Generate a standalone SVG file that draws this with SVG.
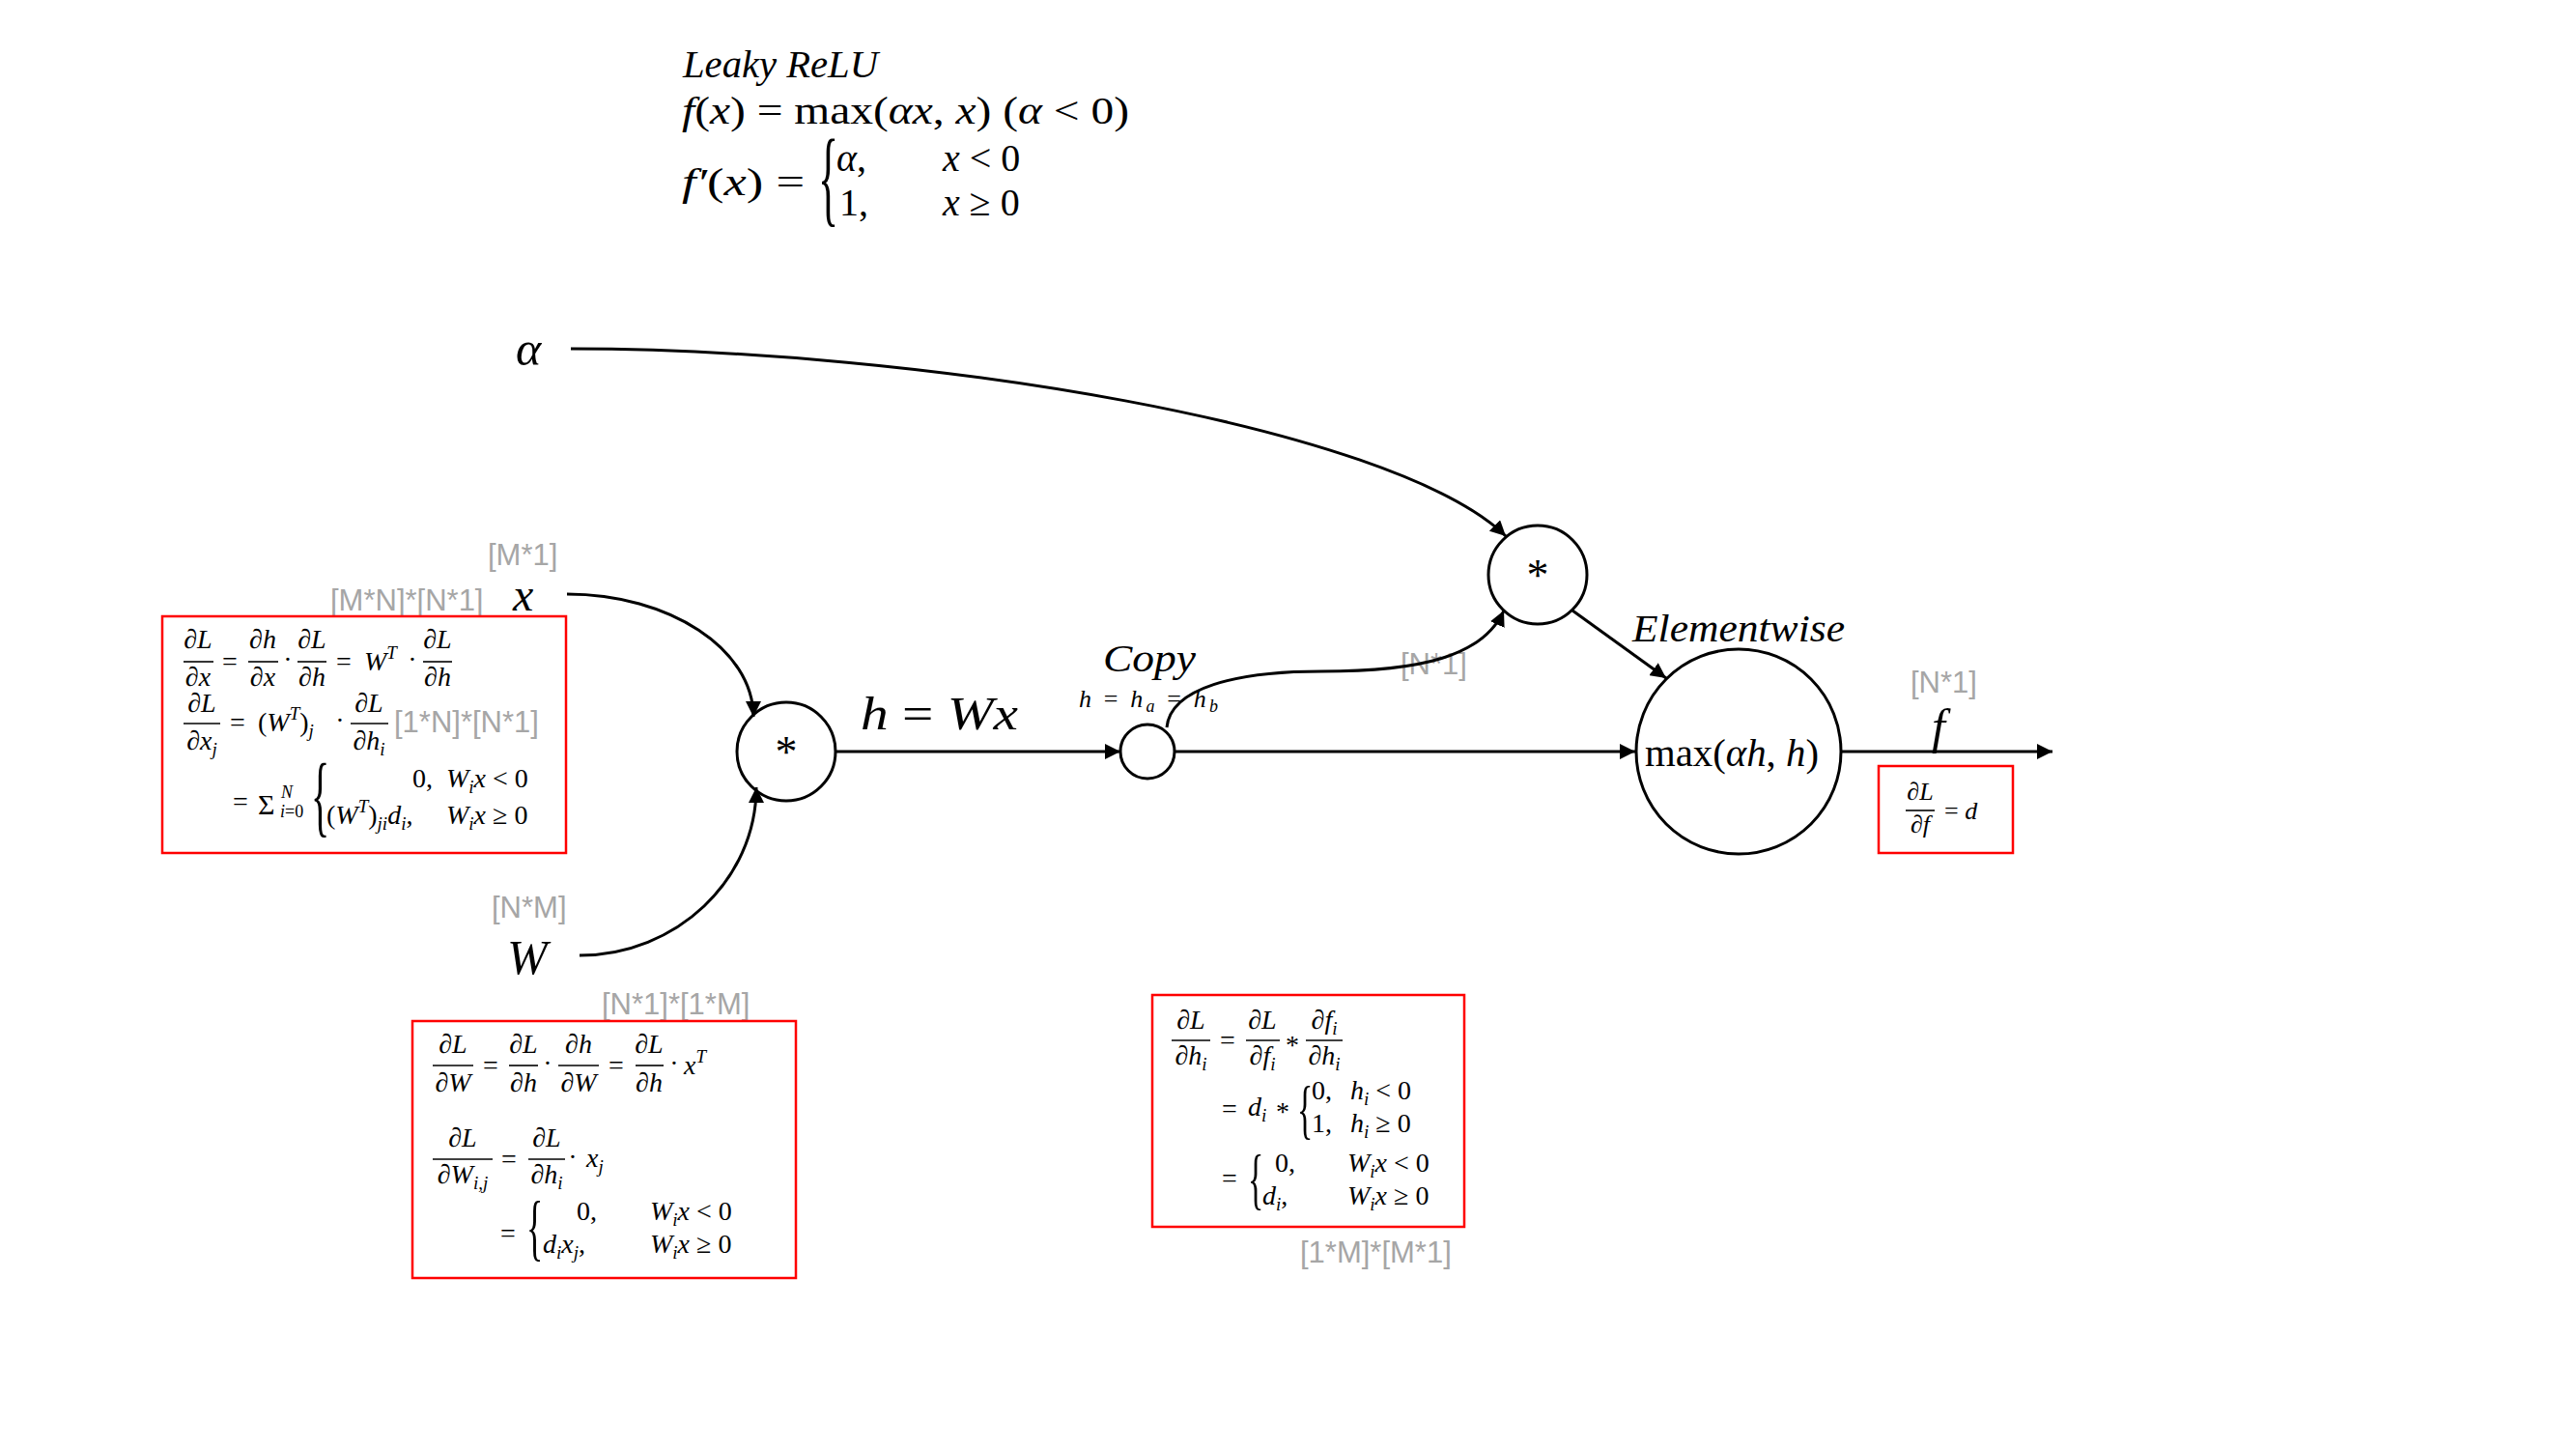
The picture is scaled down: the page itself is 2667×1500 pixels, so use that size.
<svg xmlns="http://www.w3.org/2000/svg" width="2667" height="1500" viewBox="0 0 2667 1500">
<style>
.t{font-family:"Liberation Serif","DejaVu Serif",serif;font-style:italic;fill:#000}
.u{font-style:normal}
.c{text-anchor:middle}
.f28{font-size:28px}
.g{font-family:"Liberation Sans","DejaVu Sans",sans-serif;fill:#a6a6a6;font-size:31px}
.box{fill:none;stroke:#ff0000;stroke-width:2.5}
.fb{stroke:#000;stroke-width:1.6}
.node{fill:#fff;stroke:#000;stroke-width:3}
.edge{fill:none;stroke:#000;stroke-width:3}
</style>
<defs>
<marker id="arr" markerUnits="userSpaceOnUse" markerWidth="18" markerHeight="16" refX="16" refY="8" orient="auto">
<path d="M0,0 L16,8 L0,16 z" fill="#000"/>
</marker>
</defs>
<rect width="2667" height="1500" fill="#fff"/>

<g id="title">
<text class="t" x="707" y="80" font-size="40" textLength="202" lengthAdjust="spacingAndGlyphs">Leaky ReLU</text>
<text class="t" x="706" y="128" font-size="40" textLength="463" lengthAdjust="spacingAndGlyphs">f<tspan class="u">(</tspan>x<tspan class="u">) = max(</tspan>αx<tspan class="u">, </tspan>x<tspan class="u">)  (</tspan>α<tspan class="u"> &lt; 0)</tspan></text>
<text class="t" x="706" y="202" font-size="40" textLength="127" lengthAdjust="spacingAndGlyphs">f′<tspan class="u">(</tspan>x<tspan class="u">) =</tspan></text>
<text class="t u" font-size="44" transform="translate(847,220) scale(1,2.52)">{</text>
<text class="t" x="866" y="177" font-size="40">α<tspan class="u">,</tspan></text>
<text class="t" x="976" y="177" font-size="40">x<tspan class="u"> &lt; 0</tspan></text>
<text class="t u" x="869" y="223" font-size="40">1,</text>
<text class="t" x="976" y="223" font-size="40">x<tspan class="u"> ≥ 0</tspan></text>
</g>

<g id="alpha">
<text class="t" x="534" y="378" font-size="50">α</text>
</g>

<g id="x">
<text class="g" x="505" y="585">[M*1]</text>
<text class="g" x="342" y="632">[M*N]*[N*1]</text>
<text class="t" x="531" y="632" font-size="48">x</text>
</g>

<g id="W">
<text class="g" x="509" y="950">[N*M]</text>
<text class="t" x="525" y="1008" font-size="50">W</text>
</g>

<g id="grad-x">
<rect class="box" x="168" y="638" width="418" height="245"/>
<g class="t f28">
<text class="c" x="205" y="671">∂L</text><line class="fb" x1="190" y1="685" x2="221" y2="685"/><text class="c" x="205" y="710">∂x</text>
<text class="c u" x="238" y="694">=</text>
<text class="c" x="272" y="671">∂h</text><line class="fb" x1="257" y1="685" x2="288" y2="685"/><text class="c" x="272" y="710">∂x</text>
<text class="c u" x="298" y="692">·</text>
<text class="c" x="323" y="671">∂L</text><line class="fb" x1="308" y1="685" x2="338" y2="685"/><text class="c" x="323" y="710">∂h</text>
<text class="c u" x="356" y="694">=</text>
<text x="377" y="694">W<tspan font-size="19" dy="-12">T</tspan></text>
<text class="c u" x="427" y="692">·</text>
<text class="c" x="453" y="671">∂L</text><line class="fb" x1="438" y1="685" x2="468" y2="685"/><text class="c" x="453" y="710">∂h</text>

<text class="c" x="209" y="737">∂L</text><line class="fb" x1="190" y1="749" x2="228" y2="749"/><text class="c" x="209" y="776">∂x<tspan font-size="19" dy="6">j</tspan></text>
<text class="c u" x="246" y="757">=</text>
<text x="267" y="757"><tspan class="u">(</tspan>W<tspan font-size="19" dy="-12">T</tspan><tspan class="u" dy="12">)</tspan><tspan font-size="19" dy="6">j</tspan></text>
<text class="c u" x="352" y="755">·</text>
<text class="c" x="382" y="737">∂L</text><line class="fb" x1="363" y1="749" x2="402" y2="749"/><text class="c" x="382" y="776">∂h<tspan font-size="19" dy="6">i</tspan></text>

<text class="c u" x="249" y="839">=</text>
<text class="u" x="267" y="843" font-size="30">Σ</text>
<text x="291" y="826" font-size="18">N</text>
<text x="290" y="846" font-size="18">i<tspan class="u">=0</tspan></text>
<text class="u" font-size="40" transform="translate(322,855) scale(1,2.34)">{</text>
<text class="u" x="427" y="815">0,</text>
<text x="462" y="815">W<tspan font-size="19" dy="6">i</tspan><tspan dy="-6">x</tspan><tspan class="u"> &lt; 0</tspan></text>
<text x="338" y="853"><tspan class="u">(</tspan>W<tspan font-size="19" dy="-12">T</tspan><tspan class="u" dy="12">)</tspan><tspan font-size="19" dy="6">ji</tspan><tspan dy="-6">d</tspan><tspan font-size="19" dy="6">i</tspan><tspan class="u" dy="-6">,</tspan></text>
<text x="462" y="853">W<tspan font-size="19" dy="6">i</tspan><tspan dy="-6">x</tspan><tspan class="u"> ≥ 0</tspan></text>
</g>
<text class="g" x="408" y="758">[1*N]*[N*1]</text>
</g>

<g id="grad-W">
<text class="g" x="623" y="1050">[N*1]*[1*M]</text>
<rect class="box" x="427" y="1057" width="397" height="266"/>
<g class="t f28">
<text class="c" x="469" y="1090">∂L</text><line class="fb" x1="448" y1="1103" x2="490" y2="1103"/><text class="c" x="469" y="1130">∂W</text>
<text class="c u" x="508" y="1112">=</text>
<text class="c" x="542" y="1090">∂L</text><line class="fb" x1="527" y1="1103" x2="557" y2="1103"/><text class="c" x="542" y="1130">∂h</text>
<text class="c u" x="567" y="1110">·</text>
<text class="c" x="599" y="1090">∂h</text><line class="fb" x1="578" y1="1103" x2="620" y2="1103"/><text class="c" x="599" y="1130">∂W</text>
<text class="c u" x="638" y="1112">=</text>
<text class="c" x="672" y="1090">∂L</text><line class="fb" x1="658" y1="1103" x2="687" y2="1103"/><text class="c" x="672" y="1130">∂h</text>
<text class="c u" x="698" y="1110">·</text>
<text x="708" y="1112">x<tspan font-size="19" dy="-12">T</tspan></text>

<text class="c" x="479" y="1187">∂L</text><line class="fb" x1="448" y1="1200" x2="510" y2="1200"/><text class="c" x="479" y="1225">∂W<tspan font-size="19" dy="6">i,j</tspan></text>
<text class="c u" x="527" y="1209">=</text>
<text class="c" x="566" y="1187">∂L</text><line class="fb" x1="547" y1="1200" x2="585" y2="1200"/><text class="c" x="566" y="1225">∂h<tspan font-size="19" dy="6">i</tspan></text>
<text class="c u" x="593" y="1207">·</text>
<text x="607" y="1208">x<tspan font-size="19" dy="6">j</tspan></text>

<text class="c u" x="526" y="1286">=</text>
<text class="u" font-size="36" transform="translate(545,1296) scale(1,2.13)">{</text>
<text class="u" x="597" y="1263">0,</text>
<text x="673" y="1263">W<tspan font-size="19" dy="6">i</tspan><tspan dy="-6">x</tspan><tspan class="u"> &lt; 0</tspan></text>
<text x="562" y="1297">d<tspan font-size="19" dy="6">i</tspan><tspan dy="-6">x</tspan><tspan font-size="19" dy="6">j</tspan><tspan class="u" dy="-6">,</tspan></text>
<text x="673" y="1297">W<tspan font-size="19" dy="6">i</tspan><tspan dy="-6">x</tspan><tspan class="u"> ≥ 0</tspan></text>
</g>
</g>

<g id="grad-h">
<rect class="box" x="1193" y="1030" width="323" height="240"/>
<g class="t f28">
<text class="c" x="1233" y="1065">∂L</text><line class="fb" x1="1213" y1="1077" x2="1253" y2="1077"/><text class="c" x="1233" y="1102">∂h<tspan font-size="19" dy="6">i</tspan></text>
<text class="c u" x="1271" y="1086">=</text>
<text class="c" x="1307" y="1065">∂L</text><line class="fb" x1="1290" y1="1077" x2="1325" y2="1077"/><text class="c" x="1307" y="1102">∂f<tspan font-size="19" dy="6">i</tspan></text>
<text class="c u" x="1338" y="1091">*</text>
<text class="c" x="1371" y="1065">∂f<tspan font-size="19" dy="6">i</tspan></text><line class="fb" x1="1352" y1="1077" x2="1390" y2="1077"/><text class="c" x="1371" y="1102">∂h<tspan font-size="19" dy="6">i</tspan></text>

<text class="c u" x="1273" y="1157">=</text>
<text x="1292" y="1155">d<tspan font-size="19" dy="6">i</tspan></text>
<text class="c u" x="1328" y="1160">*</text>
<text class="u" font-size="34" transform="translate(1343,1171) scale(1,2.02)">{</text>
<text class="u" x="1358" y="1138">0,</text>
<text x="1398" y="1138">h<tspan font-size="19" dy="6">i</tspan><tspan class="u" dy="-6"> &lt; 0</tspan></text>
<text class="u" x="1358" y="1172">1,</text>
<text x="1398" y="1172">h<tspan font-size="19" dy="6">i</tspan><tspan class="u" dy="-6"> ≥ 0</tspan></text>

<text class="c u" x="1273" y="1229">=</text>
<text class="u" font-size="34" transform="translate(1292,1244) scale(1,2.08)">{</text>
<text class="u" x="1320" y="1213">0,</text>
<text x="1395" y="1213">W<tspan font-size="19" dy="6">i</tspan><tspan dy="-6">x</tspan><tspan class="u"> &lt; 0</tspan></text>
<text x="1307" y="1247">d<tspan font-size="19" dy="6">i</tspan><tspan class="u" dy="-6">,</tspan></text>
<text x="1395" y="1247">W<tspan font-size="19" dy="6">i</tspan><tspan dy="-6">x</tspan><tspan class="u"> ≥ 0</tspan></text>
</g>
<text class="g" x="1346" y="1307">[1*M]*[M*1]</text>
</g>

<g id="mul-Wx">
<circle class="node" cx="814" cy="778" r="51"/>
<text class="t u c" x="814" y="794" font-size="46">*</text>
<text class="t" x="891" y="755" font-size="48" textLength="163" lengthAdjust="spacingAndGlyphs">h<tspan class="u"> = </tspan>Wx</text>
</g>

<g id="copy">
<circle class="node" cx="1188" cy="778" r="28"/>
<text class="t" x="1142" y="695" font-size="40" textLength="96" lengthAdjust="spacingAndGlyphs">Copy</text>
<text class="t" x="1117" y="732" font-size="26" textLength="144" lengthAdjust="spacing">h<tspan class="u"> = </tspan>h<tspan font-size="18" dy="5">a</tspan><tspan class="u" dy="-5"> = </tspan>h<tspan font-size="18" dy="5">b</tspan></text>
<text class="g" x="1450" y="698">[N*1]</text>
</g>

<g id="mul-alpha">
<circle class="node" cx="1592" cy="595" r="51"/>
<text class="t u c" x="1592" y="611" font-size="46">*</text>
</g>

<g id="max">
<circle class="node" cx="1800" cy="778" r="106"/>
<text class="t" x="1690" y="664" font-size="40" textLength="220" lengthAdjust="spacingAndGlyphs">Elementwise</text>
<text class="t" x="1703" y="793" font-size="40" textLength="180" lengthAdjust="spacingAndGlyphs"><tspan class="u">max(</tspan>αh<tspan class="u">, </tspan>h<tspan class="u">)</tspan></text>
</g>

<g id="f">
<text class="g" x="1978" y="717">[N*1]</text>
<text class="t" x="2000" y="769" font-size="50">f</text>
<rect class="box" x="1945" y="793" width="139" height="90"/>
<g class="t" font-size="26">
<text class="c" x="1988" y="828">∂L</text><line class="fb" x1="1973" y1="839" x2="2003" y2="839"/><text class="c" x="1988" y="862">∂f</text>
<text x="2013" y="848"><tspan class="u">= </tspan>d</text>
</g>
</g>

<g id="connectors">
<path class="edge" marker-end="url(#arr)" d="M591,361 C950,361 1440,440 1559,555"/>
<path class="edge" marker-end="url(#arr)" d="M587,615 C693,615 780,672 780,742"/>
<path class="edge" marker-end="url(#arr)" d="M600,989 C700,989 783,911 783,815"/>
<path class="edge" marker-end="url(#arr)" d="M865,778 L1160,778"/>
<path class="edge" marker-end="url(#arr)" d="M1216,778 L1693,778"/>
<path class="edge" marker-end="url(#arr)" d="M1208,753 C1212,712 1280,695 1368,695 C1470,695 1535,680 1557,632"/>
<path class="edge" marker-end="url(#arr)" d="M1628,632 L1725,702"/>
<path class="edge" marker-end="url(#arr)" d="M1907,778 L2125,778"/>
</g>
</svg>
